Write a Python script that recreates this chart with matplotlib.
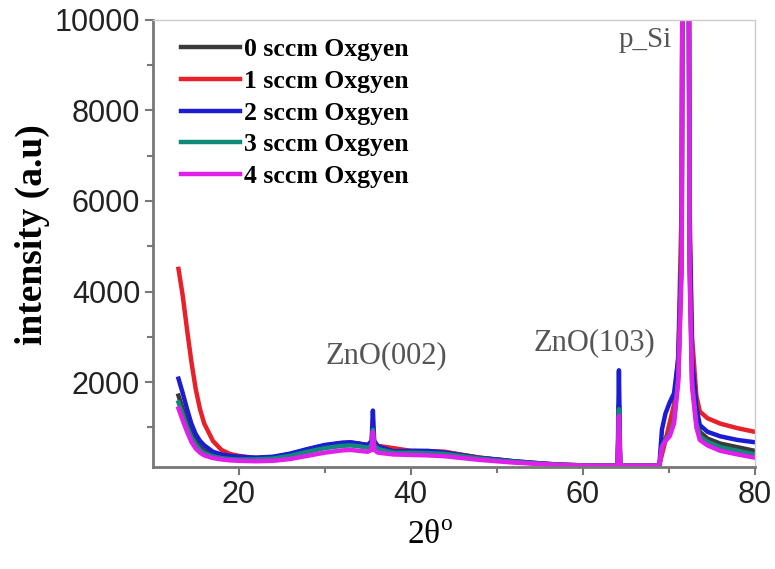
import matplotlib
matplotlib.use("Agg")
import matplotlib.pyplot as plt
from matplotlib.ticker import FixedLocator

# 2theta sampling points (degrees)
two_theta = [13, 13.5, 14, 14.5, 15, 15.5, 16, 17, 18, 19, 20, 22, 24, 26, 28, 30, 32, 33, 34, 35,
             35.45, 35.6, 35.75, 36.2, 38, 40, 42, 44, 46, 48, 50, 52, 54, 56, 58, 60, 62,
             64.05, 64.2, 64.35, 66, 68, 68.9, 69.2, 69.6, 70.1, 70.6, 71.1, 71.5, 71.8, 72.1,
             72.4, 72.7, 73.2, 73.6, 74.5, 76, 78, 80]

# intensity (a.u)
oxy0 = [1700, 1400, 1100, 850, 680, 560, 480, 390, 350, 330, 320, 320, 340, 410, 510, 600, 650, 660, 640, 600,
        650, 1000, 650, 570, 470, 470, 470, 450, 390, 330, 290, 250, 220, 190, 170, 160, 150,
        150, 1500, 150, 150, 150, 160, 600, 750, 900, 1200, 2200, 5000, 30000, 30000,
        5000, 2200, 1200, 900, 750, 640, 560, 480]
oxy1 = [4500, 3900, 3150, 2450, 1850, 1400, 1080, 700, 500, 410, 370, 320, 330, 380, 470, 560, 630, 650, 630, 610,
        600, 620, 600, 590, 540, 480, 470, 460, 390, 330, 280, 240, 210, 190, 170, 160, 150,
        150, 1200, 150, 150, 150, 160, 400, 700, 1100, 1500, 2600, 6000, 30000, 30000,
        6000, 3000, 1700, 1350, 1200, 1080, 980, 900]
oxy2 = [2075, 1750, 1400, 1080, 850, 700, 600, 460, 400, 370, 350, 330, 350, 420, 520, 610, 660, 670, 640, 610,
        700, 1370, 700, 580, 470, 480, 480, 440, 380, 320, 290, 250, 220, 190, 170, 160, 150,
        150, 2260, 150, 150, 150, 160, 950, 1300, 1550, 1750, 2500, 5000, 30000, 30000,
        5500, 2500, 1450, 1050, 900, 800, 720, 670]
oxy3 = [1550, 1280, 1000, 780, 620, 500, 430, 360, 320, 300, 290, 290, 310, 370, 460, 540, 590, 600, 580, 550,
        600, 950, 600, 520, 440, 440, 430, 410, 360, 310, 270, 240, 210, 185, 170, 158, 150,
        150, 1400, 150, 150, 150, 160, 580, 720, 850, 1150, 2100, 4800, 30000, 30000,
        4800, 2000, 1100, 800, 680, 560, 480, 400]
oxy4 = [1415, 1150, 900, 680, 530, 440, 380, 320, 290, 270, 260, 250, 260, 300, 370, 440, 490, 500, 480, 460,
        500, 900, 500, 440, 400, 390, 380, 360, 320, 280, 250, 220, 200, 180, 165, 155, 150,
        150, 1250, 150, 150, 150, 160, 560, 700, 800, 1080, 2000, 4500, 30000, 30000,
        4500, 1900, 1000, 720, 600, 480, 400, 330]

labels = ["0 sccm Oxgyen", "1 sccm Oxgyen", "2 sccm Oxgyen", "3 sccm Oxgyen", "4 sccm Oxgyen"]
colors = ["#3a3a3a", "#e8202a", "#1c1cd2", "#0f8a78", "#e020ea"]

fig = plt.figure(figsize=(7.75, 5.69), dpi=100)
ax = fig.add_axes([0.197, 0.179, 0.777, 0.786])

for ys, lab, col in zip([oxy0, oxy1, oxy2, oxy3, oxy4], labels, colors):
    ax.plot(two_theta, ys, color=col, lw=3.2, label=lab, solid_joinstyle="round")

ax.set_xlim(10, 80)
ax.set_ylim(120, 10000)
ax.set_xticks([20, 40, 60, 80])
ax.set_yticks([2000, 4000, 6000, 8000, 10000])
ax.xaxis.set_minor_locator(FixedLocator([30, 50, 70]))
ax.yaxis.set_minor_locator(FixedLocator([1000, 3000, 5000, 7000, 9000]))

ax.tick_params(which="both", direction="out", color="#777777", width=1.5)
ax.tick_params(which="major", length=6, labelsize=22, pad=3, labelcolor="#222222")
ax.tick_params(which="minor", length=4)
for lab in ax.get_xticklabels() + ax.get_yticklabels():
    lab.set_fontfamily("Liberation Sans")

for side in ["left", "bottom"]:
    ax.spines[side].set_color("#777777")
    ax.spines[side].set_linewidth(2)
for side in ["top", "right"]:
    ax.spines[side].set_color("#cccccc")
    ax.spines[side].set_linewidth(1)

ax.set_ylabel("intensity (a.u)", fontfamily="Liberation Serif", fontweight="bold", fontsize=27)
ax.yaxis.set_label_coords(-0.17, 0.52)
ax.set_xlabel("2θ$^\\mathregular{o}$", fontfamily="Liberation Serif", fontsize=24)
ax.xaxis.set_label_coords(0.46, -0.12)

ann = dict(fontfamily="Liberation Serif", fontsize=22, color="#555555", ha="center", va="center")
ax.text(37.2, 2590, "ZnO(002)", **ann)
ax.text(61.3, 2860, "ZnO(103)", **ann)
ax.text(70.3, 9560, "p_Si", fontfamily="Liberation Serif", fontsize=21, color="#555555", ha="right", va="center")

leg = ax.legend(loc="upper left", bbox_to_anchor=(0.03, 0.982), frameon=False,
                prop={"family": "Liberation Serif", "weight": "bold", "size": 18.5},
                handlelength=2.3, handletextpad=0.15, labelspacing=0.34, borderaxespad=0)

fig.savefig("out.png", dpi=100)
